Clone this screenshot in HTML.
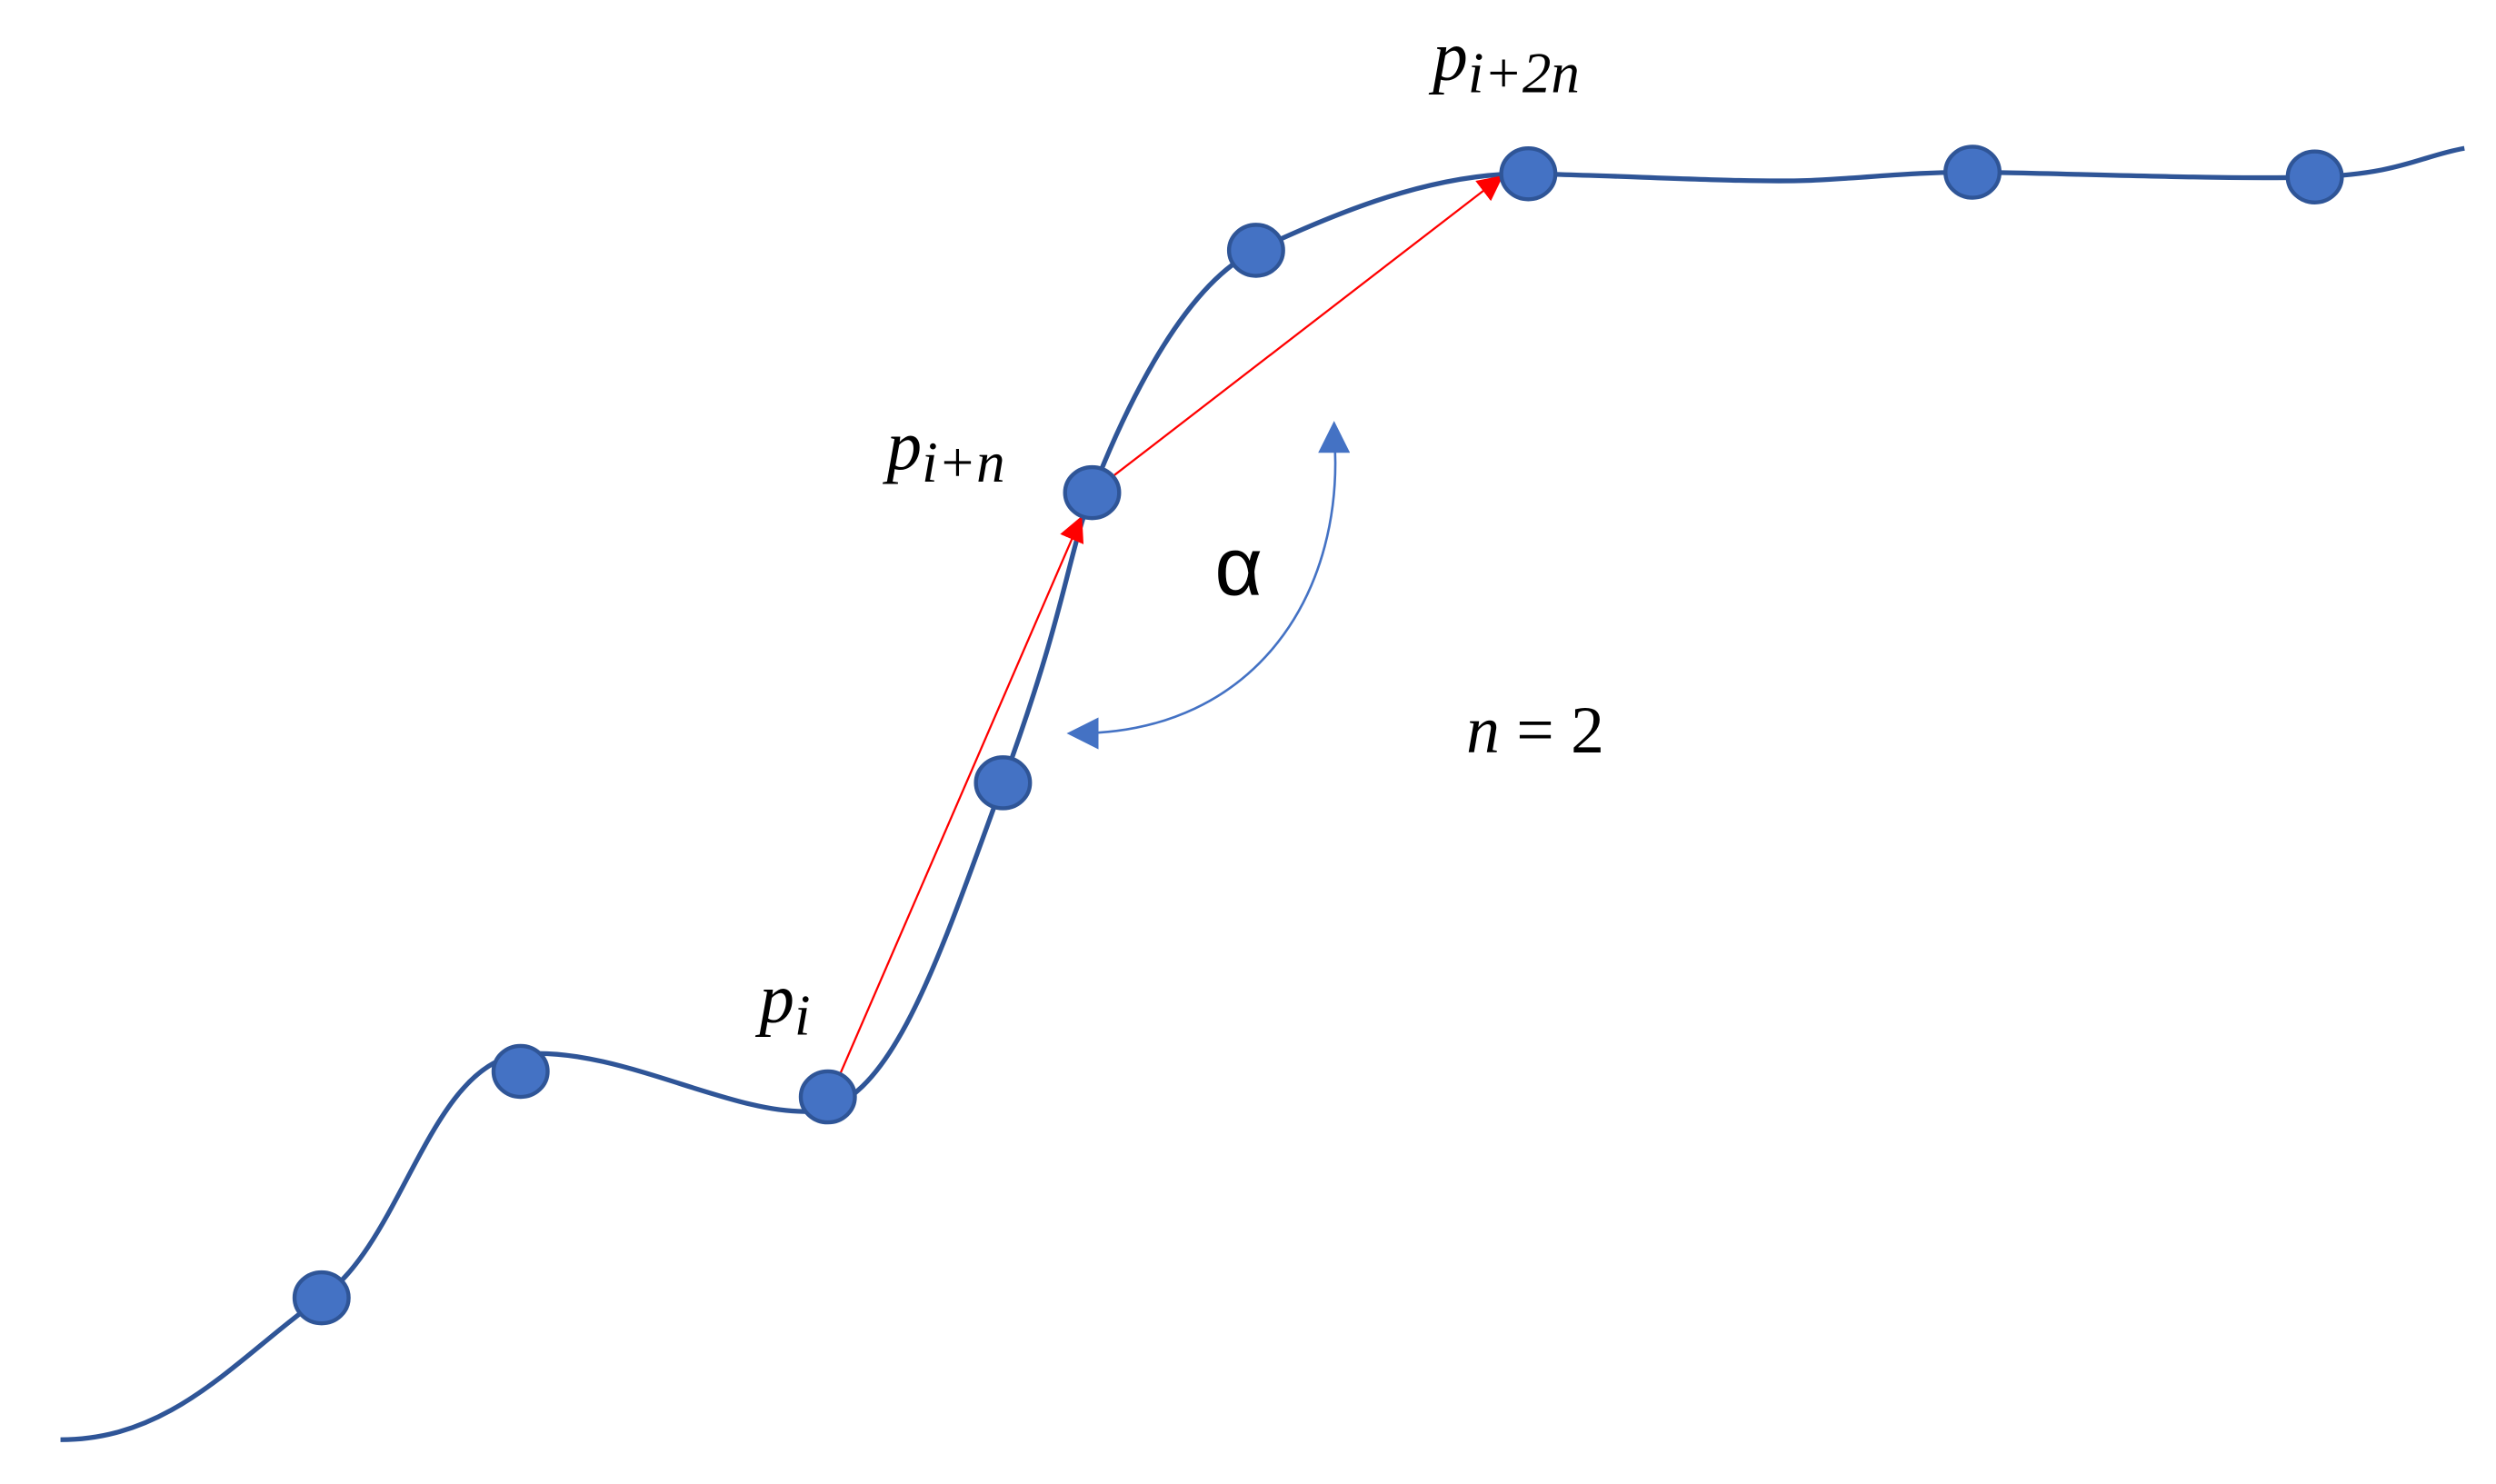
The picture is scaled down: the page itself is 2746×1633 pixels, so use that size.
<!DOCTYPE html>
<html><head><meta charset="utf-8"><style>html,body{margin:0;padding:0;background:#fff}svg{display:block}</style></head>
<body>
<svg width="2746" height="1633" viewBox="0 0 1560 928" preserveAspectRatio="none" xmlns="http://www.w3.org/2000/svg">
<defs>
<marker id="r" viewBox="0 0 10 10" refX="9" refY="5" markerWidth="16" markerHeight="16" markerUnits="userSpaceOnUse" orient="auto"><path d="M0,0 L10,5 L0,10z" fill="#ff0000"/></marker>
<marker id="b" viewBox="0 0 10 10" refX="9" refY="5" markerWidth="20" markerHeight="20" markerUnits="userSpaceOnUse" orient="auto"><path d="M0,0 L10,5 L0,10z" fill="#4472c4"/></marker>
</defs>
<g transform="scale(0.995 0.997)">
<path d="M38,903 C110,903 150,850 202,814 S270,665 330,661 S460,700 510,697 S590,600 630,491 S670,350 686,309 S740,180 789,157 S900,108 960,109 S1100,115 1140,113 S1200,108 1239,108 S1400,113 1454,111 S1520,98 1548,93" fill="none" stroke="#2f5597" stroke-width="3"/>
<line x1="528" y1="673" x2="679" y2="325" stroke="#ff0000" stroke-width="1.3" marker-end="url(#r)"/>
<line x1="700" y1="298" x2="943" y2="111" stroke="#ff0000" stroke-width="1.3" marker-end="url(#r)"/>
<path d="M838,272 C846,370 790,460 676,460" fill="none" stroke="#4472c4" stroke-width="1.5"/>
<path d="M838,272 L838,266" stroke="#4472c4" stroke-width="1.5" marker-end="url(#b)"/>
<path d="M678,460 L672,460" stroke="#4472c4" stroke-width="1.5" marker-end="url(#b)"/>
<g fill="#4472c4" stroke="#2f5597" stroke-width="2.5">
<ellipse cx="202" cy="814" rx="17" ry="16"/>
<ellipse cx="327" cy="672" rx="17" ry="16"/>
<ellipse cx="520" cy="688" rx="17" ry="16"/>
<ellipse cx="630" cy="491" rx="17" ry="16"/>
<ellipse cx="686" cy="309" rx="17" ry="16"/>
<ellipse cx="789" cy="157" rx="17" ry="16"/>
<ellipse cx="960" cy="109" rx="17" ry="16"/>
<ellipse cx="1239" cy="108" rx="17" ry="16"/>
<ellipse cx="1454" cy="111" rx="17" ry="16"/>
</g>
<g font-family="Liberation Serif, serif" font-style="italic" fill="#000">
<text x="900" y="50" font-size="44">p<tspan font-size="36" dy="8">i+2n</tspan></text>
<text x="557" y="294" font-size="44">p<tspan font-size="36" dy="8">i+n</tspan></text>
<text x="477" y="641" font-size="44">p<tspan font-size="36" dy="8">i</tspan></text>
<text x="921" y="472" font-size="42">n <tspan font-style="normal">= 2</tspan></text>
</g>
<text x="763" y="373" font-family="Liberation Sans, sans-serif" font-size="52" fill="#000">α</text>
</g>
</svg>
</body></html>
